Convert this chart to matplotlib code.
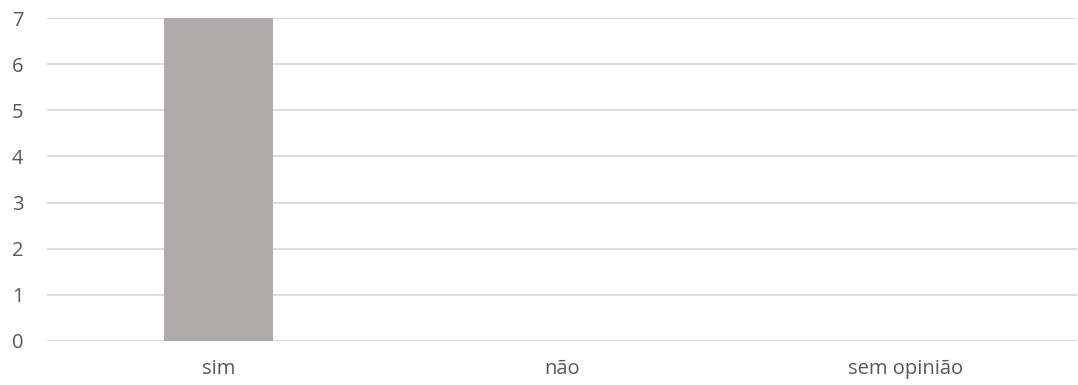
import matplotlib
matplotlib.use("Agg")
import matplotlib.pyplot as plt

categories = ["sim", "não", "sem opinião"]
values = [7, 0, 0]
yticks = [0, 1, 2, 3, 4, 5, 6, 7]

plt.rcParams['font.family'] = ['Open Sans', 'DejaVu Sans']

fig = plt.figure(figsize=(10.78, 3.85), dpi=100)
ax = fig.add_axes([47/1078, 1-341/385, 1030/1078, 323/385])

x = range(len(categories))
ax.bar(x, values, width=0.317, color="#afabab", zorder=3)
ax.set_xlim(-0.5, len(categories) - 0.5)
ax.set_ylim(0, 7)
ax.set_yticks(yticks)
ax.set_xticks(list(x))
ax.set_xticklabels(categories)
ax.yaxis.grid(True, color="#d9d9d9", linewidth=1.3, zorder=0)
for s in ax.spines.values():
    s.set_visible(False)
ax.tick_params(axis='both', length=0, labelsize=14.5, labelcolor="#595959")
ax.tick_params(axis='y', pad=17)
ax.tick_params(axis='x', pad=13)
for lbl in ax.get_yticklabels():
    lbl.set_horizontalalignment('right')

fig.savefig("out.png", dpi=100)
